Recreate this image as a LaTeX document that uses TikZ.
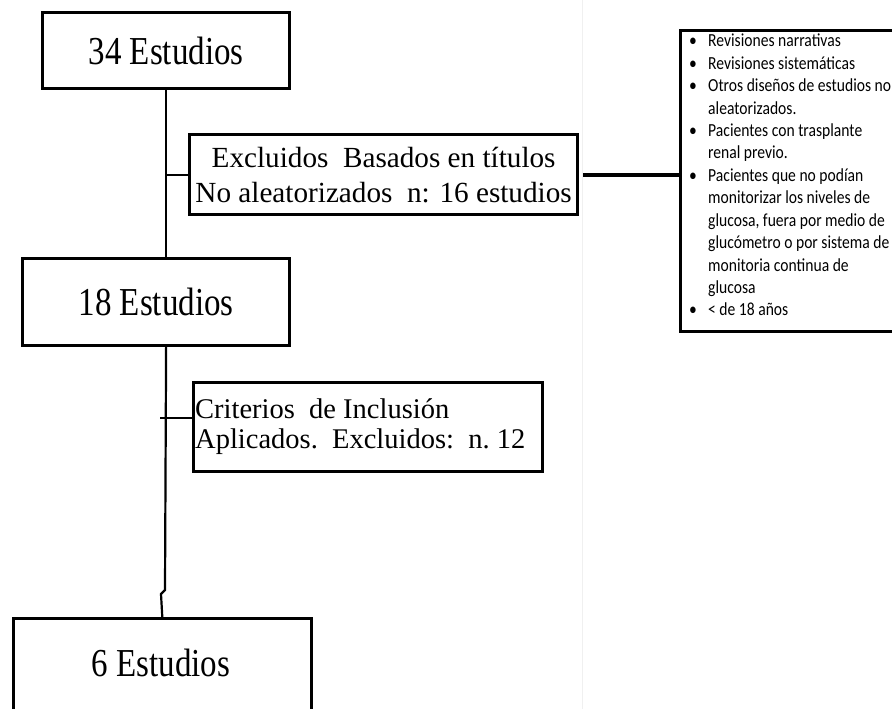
\documentclass[tikz,border=0pt]{standalone}
\usepackage{fontspec}
\setmainfont{Liberation Serif}
\newfontfamily\calfont{Carlito}
\begin{document}
\begin{tikzpicture}[x=1pt,y=-1pt,
  bigbox/.style={draw=black, line width=3.2pt, fill=white, inner sep=0pt, anchor=north west},
  conn/.style={draw=black, line width=2.2pt}]
\clip (0,0) rectangle (892,709);
\fill[white] (0,0) rectangle (892,709);
\draw[color=black!6, line width=1pt] (582,0) -- (582,709);

% main boxes
\node[bigbox, minimum width=247pt, minimum height=76pt] (b1) at (41,11)
  {\scalebox{1}[1.2]{\fontsize{33}{36}\selectfont 34 Estudios}};
\node[bigbox, minimum width=388pt, minimum height=80pt, align=center,
      font=\fontsize{29.2}{35}\selectfont] (b2) at (188,133)
  {Excluidos\ \ Basados en títulos\\No aleatorizados\ \ n: 16 estudios};
\node[bigbox, minimum width=267pt, minimum height=87pt] (b3) at (21,257)
  {\scalebox{1}[1.2]{\fontsize{33}{36}\selectfont 18 Estudios}};
\node[bigbox, minimum width=349pt, minimum height=89pt] (b5) at (192,381) {};
\node[anchor=west, inner sep=0pt, align=left,
      font=\fontsize{28.5}{30}\selectfont] (t5) at ([xshift=3pt]b5.west)
  {Criterios\ \ de Inclusión\\Aplicados.\ \ Excluidos:\ \ n.\ 12};
\node[bigbox, line width=2.6pt, minimum width=298pt, minimum height=100pt] (b4) at (12,617) {};
\node[anchor=center] (t4) at (161,663)
  {\scalebox{1}[1.2]{\fontsize{33}{36}\selectfont 6 Estudios}};

% bullet box
\node[draw=black, line width=2.6pt, fill=white, anchor=north west, inner sep=0pt,
      minimum width=230pt, minimum height=301pt] (bl) at (679,29) {};
\node[anchor=north west, inner sep=0pt] (bt) at (689,31)
  {\scalebox{1}[1.18]{\calfont\fontsize{15.6}{19}\selectfont
   \begin{tabular}{@{}p{19pt}@{}l@{}}
   • & Revisiones narrativas\\
   • & Revisiones sistemáticas\\
   • & Otros diseños de estudios no\\
     & aleatorizados.\\
   • & Pacientes con trasplante\\
     & renal previo.\\
   • & Pacientes que no podían\\
     & monitorizar los niveles de\\
     & glucosa, fuera por medio de\\
     & glucómetro o por sistema de\\
     & monitoria continua de\\
     & glucosa\\
   • & < de 18 años
   \end{tabular}}};

% connectors
\coordinate (j2) at (b1.south |- b2.west);
\coordinate (s3) at (b1.south |- b3.north);
\coordinate (d3) at (b1.south |- b3.south);
\coordinate (c5) at (160,418);
\coordinate (k1) at (165,590);
\coordinate (k2) at (161,594);
\coordinate (r1) at (583,175);
\draw[conn] (b1.south) -- (s3);
\draw[conn] (j2) -- (b2.west);
\draw[conn] (d3) -- (k1) -- (k2) -- (b4.north);
\draw[draw=black, line width=1.5pt] (c5) -- (b5.west |- c5);
\draw[draw=black, line width=3.4pt] (r1) -- (bl.west |- r1);
\end{tikzpicture}
\end{document}
